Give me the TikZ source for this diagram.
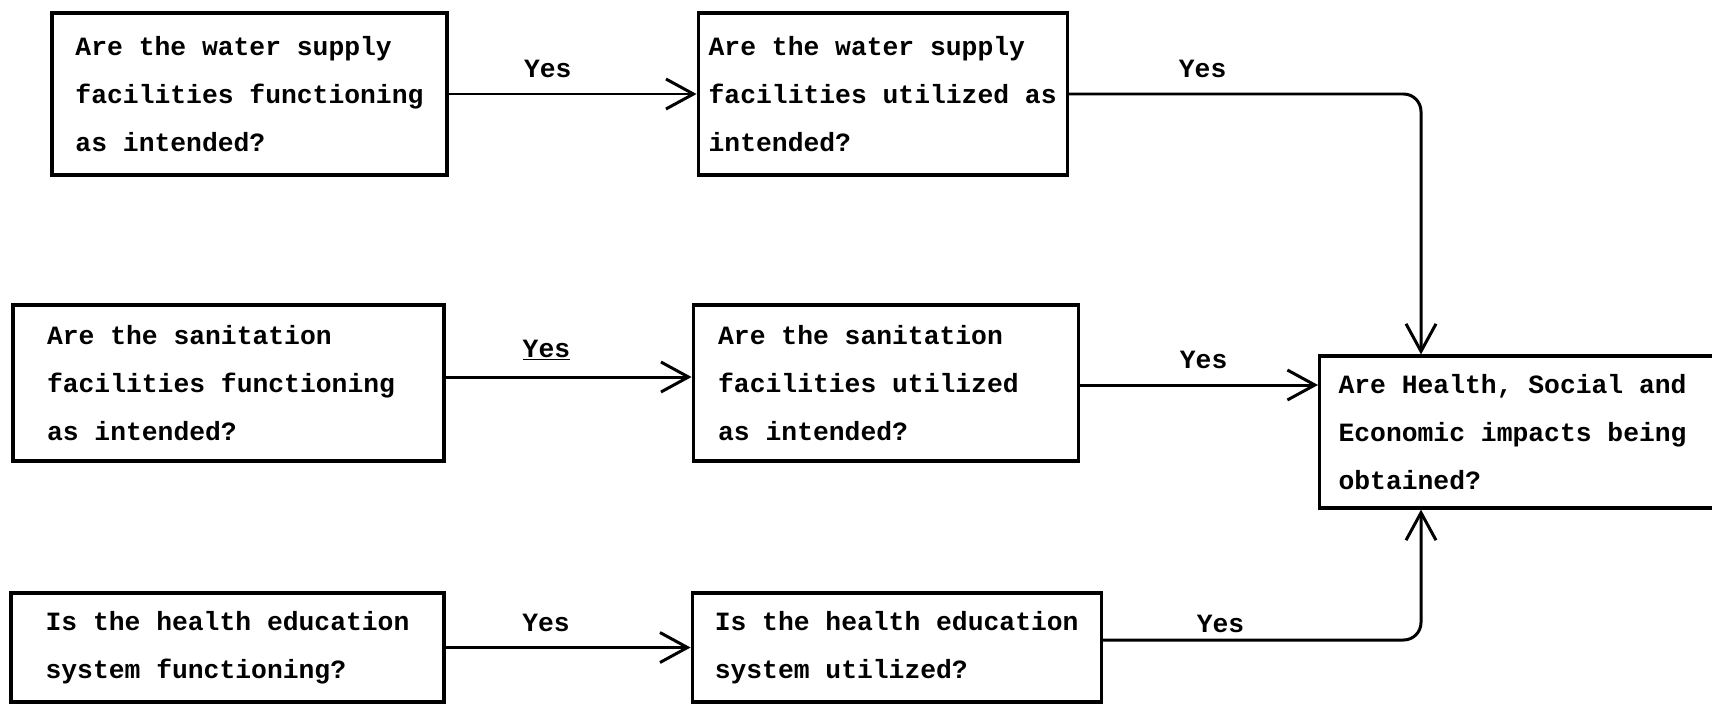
\documentclass[tikz,border=0pt]{standalone}
\usepackage{fontspec}
\setmonofont{Liberation Mono}
\usetikzlibrary{positioning, arrows.meta}

\begin{document}
\begin{tikzpicture}[
    node distance=4.9cm,
    qbox/.style={draw, line width=1.8pt, rectangle, align=flush left, inner xsep=2pt, font=\ttfamily\bfseries\fontsize{15}{27.3}\selectfont},
    yes/.style={font=\ttfamily\bfseries\fontsize{15}{18}\selectfont, above=5pt},
    arrow/.style={-{Straight Barb[length=0.55cm, width=0.6cm]}, line width=1.7pt},
    cornerarrow/.style={arrow, rounded corners=0.35cm}
]
\useasboundingbox (0,0) rectangle (34.24,-14.08);

\node[qbox, minimum width=7.9cm, minimum height=3.24cm] (1) at (4.99,-1.88) {Are the water supply\\facilities functioning\\as intended?};
\node[qbox, minimum width=7.38cm, minimum height=3.24cm, right=4.96cm of 1] (2) {Are the water supply\\facilities utilized as\\intended?};
\node[qbox, text width=7.26cm, inner xsep=0.68cm, minimum height=3.12cm] (3) at (4.57,-7.66) {Are the sanitation\\facilities functioning\\as intended?};
\node[qbox, text width=6.7cm, inner xsep=0.5cm, minimum height=3.12cm, right=4.92cm of 3] (4) {Are the sanitation\\facilities utilized\\as intended?};
\node[qbox, minimum width=8.66cm, minimum height=2.18cm] (5) at (4.55,-12.95) {Is the health education\\system functioning?};
\node[qbox, minimum width=8.18cm, minimum height=2.18cm, right=4.9cm of 5] (6) {Is the health education\\system utilized?};
\node[qbox, anchor=west, text width=7.4cm, inner xsep=0.38cm, minimum height=3.04cm] (7) at (26.36,-8.64) {Are Health, Social and\\Economic impacts being\\obtained?};

\coordinate (in1) at ([xshift=2.06cm]7.north west);
\coordinate (in2) at ([yshift=0.94cm]7.west);
\coordinate (in3) at ([xshift=2.06cm]7.south west);

\draw[arrow] (1) -- node[yes, pos=0.4] (y1) {Yes} (2);
\draw[cornerarrow] (2.east) -- node[yes, pos=0.38] (y2) {Yes} (2.east -| in1) -- (in1);
\draw[arrow] ([yshift=0.12cm]3.east) -- node[yes, pos=0.41] (y3) {\underline{Yes}} ([yshift=0.12cm]3.east -| 4.west);
\draw[arrow] (4.east |- in2) -- node[yes, pos=0.52] (y4) {Yes} (in2);
\draw[arrow] (5) -- node[yes, pos=0.41] (y5) {Yes} (6);
\draw[cornerarrow] ([yshift=0.15cm]6.east) -- node[yes, pos=0.37, above=0pt] (y6) {Yes} ([yshift=0.15cm]6.east -| in3) -- (in3);

\end{tikzpicture}
\end{document}
